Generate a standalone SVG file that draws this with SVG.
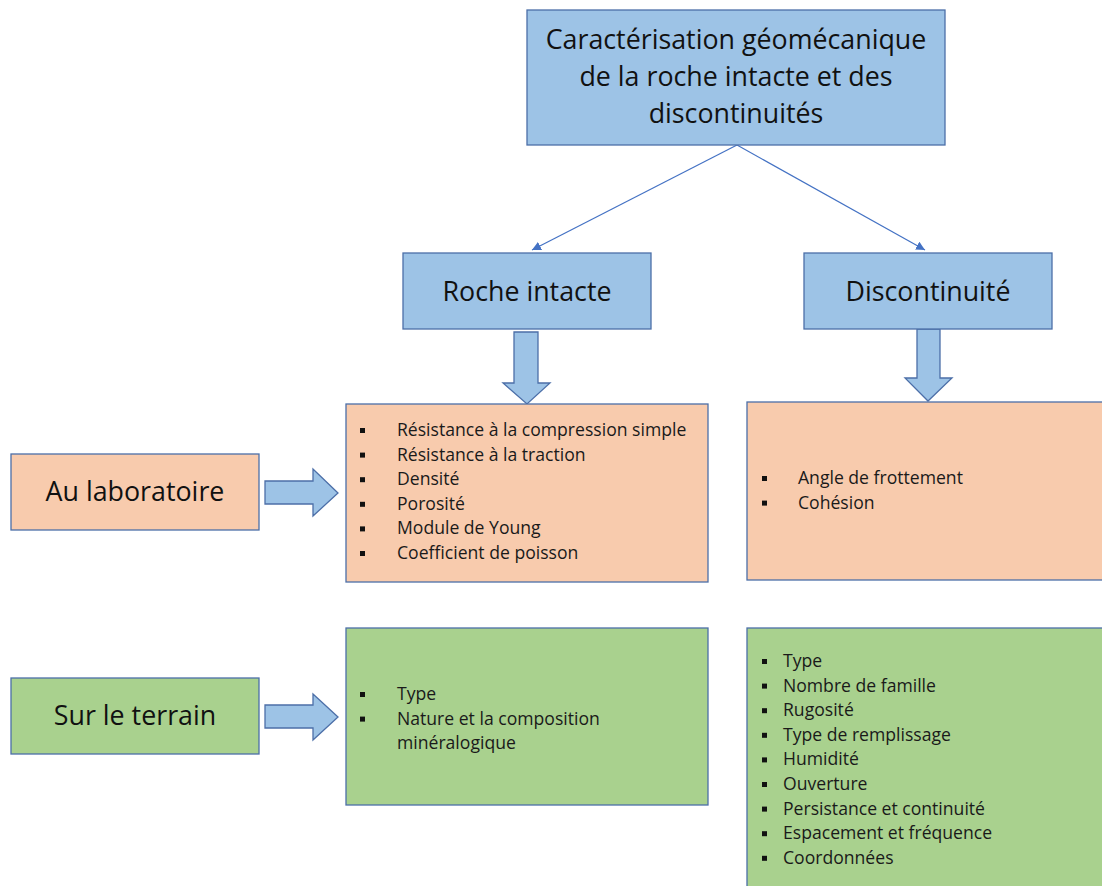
<svg xmlns="http://www.w3.org/2000/svg" width="1102" height="886" viewBox="0 0 1102 886">
<defs>
<style>
.box{stroke:#4C6FA8;stroke-width:1.3}
.blue{fill:#9DC3E6}
.orange{fill:#F8CBAD}
.green{fill:#A9D18E}
.big{font-family:"Open Sans",Lato,"Liberation Sans",sans-serif;font-size:26.8px;fill:#111;text-anchor:middle}
.item{font-family:"Open Sans",Lato,"Liberation Sans",sans-serif;font-size:17.6px;fill:#1a1a1a}
.bul{fill:#111}
.conn{stroke:#4472C4;stroke-width:1.2;fill:none}
.block{fill:#9DC3E6;stroke:#4C6FA8;stroke-width:1.3}
</style>
<marker id="ah" viewBox="0 0 10 10" refX="10" refY="5" markerWidth="9" markerHeight="9" markerUnits="userSpaceOnUse" orient="auto">
<path d="M0,0 L10,5 L0,10 z" fill="#4472C4"/>
</marker>
</defs>
<rect width="1102" height="886" fill="#fff"/>

<g id="connectors">
<line class="conn" x1="737" y1="145" x2="532" y2="250" marker-end="url(#ah)"/>
<line class="conn" x1="737" y1="145" x2="925" y2="250" marker-end="url(#ah)"/>
<path class="block" d="M514,332 H538 V383 H550 L527,404 L503,383 H514 Z"/>
<path class="block" d="M917,329 H940 V378 H952 L928,401 L905,378 H917 Z"/>
<path class="block" d="M265,481 H313 V469 L338,493 L313,516 V504 H265 Z"/>
<path class="block" d="M265,705 H313 V694 L338,717 L313,740 V728 H265 Z"/>
</g>

<g id="title">
<rect class="box blue" x="527" y="10" width="418" height="135"/>
<text class="big" x="736" y="49">Caractérisation géomécanique</text>
<text class="big" x="736" y="86">de la roche intacte et des</text>
<text class="big" x="736" y="123">discontinuités</text>
</g>

<g id="roche">
<rect class="box blue" x="403" y="253" width="248" height="76"/>
<text class="big" x="527" y="301">Roche intacte</text>
</g>

<g id="discontinuite">
<rect class="box blue" x="804" y="253" width="248" height="76"/>
<text class="big" x="928" y="301">Discontinuité</text>
</g>

<g id="labo">
<rect class="box orange" x="11" y="454" width="248" height="76"/>
<text class="big" x="135" y="501">Au laboratoire</text>
</g>

<g id="terrain">
<rect class="box green" x="11" y="678" width="248" height="76"/>
<text class="big" x="135" y="725">Sur le terrain</text>
</g>

<g id="labo-roche">
<rect class="box orange" x="346" y="404" width="362" height="178"/>
<g class="bul">
<rect x="360" y="428" width="5" height="5"/>
<rect x="360" y="452.6" width="5" height="5"/>
<rect x="360" y="477.2" width="5" height="5"/>
<rect x="360" y="501.8" width="5" height="5"/>
<rect x="360" y="526.4" width="5" height="5"/>
<rect x="360" y="551" width="5" height="5"/>
</g>
<text class="item" x="397" y="436">Résistance à la compression simple</text>
<text class="item" x="397" y="460.6">Résistance à la traction</text>
<text class="item" x="397" y="485.2">Densité</text>
<text class="item" x="397" y="509.8">Porosité</text>
<text class="item" x="397" y="534.4">Module de Young</text>
<text class="item" x="397" y="559">Coefficient de poisson</text>
</g>

<g id="labo-disc">
<rect class="box orange" x="747" y="402" width="360" height="178"/>
<g class="bul">
<rect x="762" y="476" width="5" height="5"/>
<rect x="762" y="500.6" width="5" height="5"/>
</g>
<text class="item" x="798" y="484">Angle de frottement</text>
<text class="item" x="798" y="508.6">Cohésion</text>
</g>

<g id="terrain-roche">
<rect class="box green" x="346" y="628" width="362" height="177"/>
<g class="bul">
<rect x="360" y="692" width="5" height="5"/>
<rect x="360" y="716.6" width="5" height="5"/>
</g>
<text class="item" x="397" y="700">Type</text>
<text class="item" x="397" y="724.6">Nature et la composition</text>
<text class="item" x="397" y="749.2">minéralogique</text>
</g>

<g id="terrain-disc">
<rect class="box green" x="747" y="628" width="360" height="270"/>
<g class="bul">
<rect x="762" y="659" width="5" height="5"/>
<rect x="762" y="683.6" width="5" height="5"/>
<rect x="762" y="708.2" width="5" height="5"/>
<rect x="762" y="732.8" width="5" height="5"/>
<rect x="762" y="757.4" width="5" height="5"/>
<rect x="762" y="782" width="5" height="5"/>
<rect x="762" y="806.6" width="5" height="5"/>
<rect x="762" y="831.2" width="5" height="5"/>
<rect x="762" y="855.8" width="5" height="5"/>
</g>
<text class="item" x="783" y="667">Type</text>
<text class="item" x="783" y="691.6">Nombre de famille</text>
<text class="item" x="783" y="716.2">Rugosité</text>
<text class="item" x="783" y="740.8">Type de remplissage</text>
<text class="item" x="783" y="765.4">Humidité</text>
<text class="item" x="783" y="790">Ouverture</text>
<text class="item" x="783" y="814.6">Persistance et continuité</text>
<text class="item" x="783" y="839.2">Espacement et fréquence</text>
<text class="item" x="783" y="863.8">Coordonnées</text>
</g>
</svg>
